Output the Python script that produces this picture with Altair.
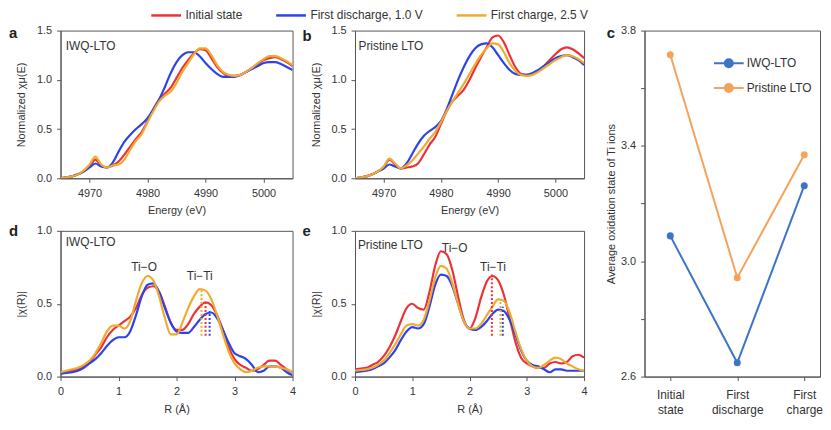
import altair as alt
import pandas as pd

FONT = "Liberation Sans"
TXT = "#333333"
AXC = "#555555"

series = ["Initial state", "First discharge, 1.0 V", "First charge, 2.5 V"]
series_colors = ["#ec3237", "#2b43e8", "#efab30"]

# XANES, energy grid 4965..5005 eV
energy = list(range(4965, 5006))
a_initial = [0.00, 0.01, 0.02, 0.04, 0.07, 0.12, 0.19, 0.13, 0.11, 0.13, 0.17, 0.24, 0.32, 0.40,
             0.47, 0.58, 0.70, 0.80, 0.86, 0.92, 1.02, 1.12, 1.20, 1.27, 1.31, 1.30, 1.22, 1.13,
             1.07, 1.04, 1.04, 1.05, 1.08, 1.12, 1.16, 1.20, 1.22, 1.23, 1.21, 1.18, 1.14]
a_discharge = [0.00, 0.01, 0.02, 0.04, 0.07, 0.11, 0.15, 0.12, 0.11, 0.16, 0.27, 0.37, 0.44, 0.50,
               0.55, 0.61, 0.70, 0.80, 0.93, 1.07, 1.18, 1.25, 1.28, 1.28, 1.24, 1.17, 1.11, 1.06,
               1.03, 1.03, 1.03, 1.05, 1.08, 1.11, 1.14, 1.17, 1.18, 1.18, 1.16, 1.13, 1.10]
a_charge = [0.00, 0.01, 0.02, 0.04, 0.08, 0.14, 0.22, 0.14, 0.11, 0.13, 0.14, 0.19, 0.29, 0.38,
            0.45, 0.57, 0.68, 0.78, 0.84, 0.88, 0.97, 1.08, 1.17, 1.26, 1.32, 1.32, 1.25, 1.15,
            1.08, 1.05, 1.04, 1.05, 1.08, 1.12, 1.17, 1.21, 1.24, 1.24, 1.22, 1.19, 1.15]
b_initial = [0.00, 0.01, 0.02, 0.04, 0.07, 0.11, 0.19, 0.14, 0.10, 0.11, 0.12, 0.15, 0.24, 0.34,
             0.42, 0.55, 0.68, 0.78, 0.84, 0.90, 1.00, 1.12, 1.23, 1.33, 1.43, 1.45, 1.38, 1.25,
             1.13, 1.06, 1.05, 1.06, 1.09, 1.14, 1.20, 1.26, 1.31, 1.33, 1.31, 1.27, 1.22]
b_discharge = [0.00, 0.01, 0.02, 0.04, 0.07, 0.10, 0.14, 0.12, 0.10, 0.15, 0.25, 0.35, 0.43, 0.48,
               0.52, 0.58, 0.70, 0.85, 1.00, 1.13, 1.24, 1.32, 1.36, 1.37, 1.33, 1.25, 1.17, 1.10,
               1.06, 1.05, 1.05, 1.07, 1.10, 1.14, 1.18, 1.22, 1.24, 1.25, 1.23, 1.20, 1.15]
b_charge = [0.00, 0.01, 0.02, 0.04, 0.07, 0.12, 0.20, 0.15, 0.10, 0.13, 0.18, 0.25, 0.32, 0.40,
            0.47, 0.57, 0.68, 0.78, 0.87, 0.96, 1.06, 1.16, 1.25, 1.32, 1.37, 1.36, 1.28, 1.17,
            1.09, 1.05, 1.04, 1.05, 1.08, 1.12, 1.16, 1.20, 1.23, 1.25, 1.24, 1.21, 1.17]

# EXAFS, R grid 0..4 Å
radius = [i / 10 for i in range(41)]
d_initial = [0.03, 0.035, 0.04, 0.05, 0.07, 0.10, 0.15, 0.20, 0.27, 0.32, 0.35, 0.38, 0.41, 0.47,
             0.56, 0.61, 0.62, 0.58, 0.48, 0.37, 0.32, 0.32, 0.36, 0.43, 0.48, 0.51, 0.49, 0.42,
             0.32, 0.20, 0.12, 0.08, 0.06, 0.04, 0.05, 0.08, 0.11, 0.11, 0.08, 0.05, 0.03]
d_discharge = [0.02, 0.025, 0.03, 0.04, 0.06, 0.09, 0.12, 0.16, 0.21, 0.25, 0.27, 0.27, 0.31, 0.42,
               0.55, 0.63, 0.64, 0.58, 0.47, 0.37, 0.31, 0.30, 0.30, 0.34, 0.39, 0.43, 0.44, 0.40,
               0.32, 0.23, 0.16, 0.14, 0.12, 0.08, 0.03, 0.04, 0.07, 0.07, 0.06, 0.03, 0.01]
d_charge = [0.03, 0.04, 0.05, 0.06, 0.08, 0.11, 0.16, 0.23, 0.31, 0.35, 0.35, 0.33, 0.38, 0.52,
            0.64, 0.69, 0.66, 0.55, 0.40, 0.29, 0.29, 0.37, 0.47, 0.55, 0.60, 0.59, 0.53, 0.42,
            0.29, 0.17, 0.09, 0.05, 0.03, 0.04, 0.06, 0.07, 0.07, 0.07, 0.06, 0.05, 0.03]
e_initial = [0.05, 0.055, 0.06, 0.08, 0.10, 0.14, 0.20, 0.28, 0.38, 0.47, 0.50, 0.47, 0.46, 0.58,
             0.76, 0.86, 0.84, 0.73, 0.55, 0.39, 0.33, 0.40, 0.54, 0.65, 0.69, 0.66, 0.56, 0.40,
             0.24, 0.13, 0.09, 0.07, 0.06, 0.06, 0.09, 0.10, 0.09, 0.10, 0.14, 0.15, 0.13]
e_discharge = [0.03, 0.035, 0.04, 0.05, 0.07, 0.09, 0.13, 0.18, 0.25, 0.31, 0.34, 0.33, 0.36, 0.48,
               0.63, 0.70, 0.69, 0.62, 0.50, 0.38, 0.33, 0.32, 0.34, 0.38, 0.43, 0.46, 0.45, 0.39,
               0.29, 0.18, 0.11, 0.08, 0.07, 0.05, 0.03, 0.05, 0.05, 0.04, 0.04, 0.04, 0.04]
e_charge = [0.04, 0.045, 0.05, 0.06, 0.08, 0.11, 0.16, 0.22, 0.29, 0.35, 0.36, 0.35, 0.39, 0.52,
            0.68, 0.76, 0.74, 0.64, 0.50, 0.38, 0.33, 0.33, 0.36, 0.42, 0.48, 0.53, 0.52, 0.44,
            0.31, 0.19, 0.11, 0.07, 0.06, 0.08, 0.11, 0.13, 0.12, 0.09, 0.07, 0.05, 0.04]

# Ti-Ti peak markers: position and top (series order), common bottom
d_peak_x = [2.50, 2.57, 2.43]
d_peak_top = [0.52, 0.45, 0.60]
e_peak_x = [2.39, 2.58, 2.54]
e_peak_top = [0.70, 0.48, 0.52]
peak_bottom = 0.28

# average Ti oxidation state
states = ["Initial state", "First discharge", "First charge"]
samples = ["IWQ-LTO", "Pristine LTO"]
sample_colors = ["#3d74c6", "#f5a25c"]
iwq_ox = [3.088, 2.648, 3.262]
pristine_ox = [3.716, 2.943, 3.369]

# axis ticks (minor ticks carry empty labels)
xanes_x_ticks = [4970, 4980, 4990, 5000]
xanes_y_ticks = [0, 0.25, 0.5, 0.75, 1.0, 1.25, 1.5]
exafs_x_ticks = [0, 0.5, 1, 1.5, 2, 2.5, 3, 3.5, 4]
exafs_y_ticks = [0, 0.25, 0.5, 0.75, 1.0]
ox_ticks = [2.6, 2.8, 3.0, 3.2, 3.4, 3.6, 3.8]


def long_df(x, cols):
    rows = []
    for name, vals in zip(series, cols):
        for xi, yi in zip(x, vals):
            rows.append({"x": xi, "y": yi, "s": name})
    return pd.DataFrame(rows)


def panel_title(letter, dx, dy):
    return alt.TitleParams(letter, anchor="start", frame="group", dx=dx, dy=dy, offset=0,
                           fontSize=15, fontWeight="bold", font=FONT, color="#222222")


def spectrum(df, xdom, xvals, xlabel_expr, xtitle, ydom, yvals, ylabel_expr, ytitle,
             width, height, notes, legend, letter, peaks=None):
    color = alt.Color("s:N", scale=alt.Scale(domain=series, range=series_colors), legend=legend)
    xaxis = dict(values=xvals, title=xtitle, tickSize=4, labelPadding=5, titlePadding=7,
                 labelOverlap=False, labelFlush=False)
    if xlabel_expr:
        xaxis["labelExpr"] = xlabel_expr
    else:
        xaxis["format"] = "d"
    xenc = alt.X("x:Q", scale=alt.Scale(domain=xdom, nice=False, zero=False),
                 axis=alt.Axis(**xaxis))
    yenc = alt.Y("y:Q", scale=alt.Scale(domain=ydom, nice=False, zero=False),
                 axis=alt.Axis(values=yvals, labelExpr=ylabel_expr, title=ytitle, tickSize=4,
                               labelPadding=5, titlePadding=10, labelOverlap=False))
    lines = alt.Chart(df).mark_line(strokeWidth=2.2, interpolate="monotone", clip=True).encode(
        x=xenc, y=yenc, color=color)
    layers = [lines]
    if peaks is not None:
        rule = alt.Chart(peaks).mark_rule(strokeWidth=2, strokeDash=[2, 2]).encode(
            x="x:Q", y="y:Q", y2="y2:Q",
            color=alt.Color("s:N", scale=alt.Scale(domain=series, range=series_colors), legend=None))
        layers.append(rule)
    for tx, ty, txt, align in notes:
        layers.append(
            alt.Chart(pd.DataFrame({"x": [tx], "y": [ty], "t": [txt]}))
            .mark_text(align=align, baseline="middle", font=FONT, fontSize=12, color=TXT)
            .encode(x="x:Q", y="y:Q", text="t:N")
        )
    return alt.layer(*layers).properties(width=width, height=height, title=letter)


half_expr = "(datum.value * 2) % 1 == 0 ? format(datum.value, '.1f') : ''"
exafs_x_expr = "datum.value % 1 == 0 ? format(datum.value, 'd') : ''"

top_legend = alt.Legend(
    title=None, orient="none", legendX=90, legendY=-32, direction="horizontal", columns=3,
    symbolType="stroke", symbolSize=900, symbolStrokeWidth=2.5, labelFont=FONT,
    labelFontSize=12, labelColor=TXT, labelOffset=3, columnPadding=28)


def peak_df(xs, tops):
    return pd.DataFrame({"x": xs, "y": [peak_bottom] * 3, "y2": tops, "s": series})


W1, W2, WC, H1, H2, HC = 234, 231, 177, 149, 147, 349

pa = spectrum(long_df(energy, [a_initial, a_discharge, a_charge]), [4965, 5005], xanes_x_ticks,
              None, "Energy (eV)", [0, 1.5], xanes_y_ticks, half_expr,
              "Normalized χμ(E)", W1, H1, [(4965.9, 1.34, "IWQ-LTO", "left")], top_legend,
              panel_title("a", -52, 43))
pb = spectrum(long_df(energy, [b_initial, b_discharge, b_charge]), [4965, 5005], xanes_x_ticks,
              None, "Energy (eV)", [0, 1.5], xanes_y_ticks, half_expr,
              "Normalized χμ(E)", W2, H1, [(4965.6, 1.34, "Pristine LTO", "left")], None,
              panel_title("b", -53, 20))
pd_ = spectrum(long_df(radius, [d_initial, d_discharge, d_charge]), [0, 4], exafs_x_ticks,
               exafs_x_expr, "R (Å)", [0, 1], exafs_y_ticks, half_expr, "|χ(R)|", W1, H2,
               [(0.09, 0.92, "IWQ-LTO", "left"), (1.44, 0.755, "Ti−O", "center"),
                (2.40, 0.69, "Ti−Ti", "center")], None,
               panel_title("d", -52, 14), peaks=peak_df(d_peak_x, d_peak_top))
pe = spectrum(long_df(radius, [e_initial, e_discharge, e_charge]), [0, 4], exafs_x_ticks,
              exafs_x_expr, "R (Å)", [0, 1], exafs_y_ticks, half_expr, "|χ(R)|", W2, H2,
              [(0.05, 0.90, "Pristine LTO", "left"), (1.74, 0.88, "Ti−O", "center"),
               (2.41, 0.755, "Ti−Ti", "center")], None,
              panel_title("e", -53, 14), peaks=peak_df(e_peak_x, e_peak_top))

c_df = pd.DataFrame({
    "state": states * 2,
    "v": iwq_ox + pristine_ox,
    "sample": [samples[0]] * 3 + [samples[1]] * 3,
})
c_legend = alt.Legend(
    title=None, orient="none", legendX=69, legendY=17,
    symbolType="M-1,0L1,0M0.27,0A0.27,0.27,0,1,1,-0.27,0A0.27,0.27,0,1,1,0.27,0",
    symbolSize=900, symbolStrokeWidth=2, labelFont=FONT, labelFontSize=12, labelColor=TXT,
    labelOffset=2, rowPadding=0)
c_base = alt.Chart(c_df).encode(
    x=alt.X("state:N", sort=states, scale=alt.Scale(type="point", padding=0.31, align=0.62),
            axis=alt.Axis(title=None, labelAngle=0, labelExpr="split(datum.label, ' ')",
                          labelLineHeight=15, tickSize=4, labelPadding=9, labelFontSize=12)),
    y=alt.Y("v:Q", scale=alt.Scale(domain=[2.6, 3.8], nice=False, zero=False),
            axis=alt.Axis(values=ox_ticks, tickSize=4, labelPadding=5, labelOverlap=False,
                          labelExpr="round((datum.value - 2.6) * 10) % 4 == 0 ? format(datum.value, '.1f') : ''",
                          title="Average oxidation state of Ti ions", titlePadding=4)),
    color=alt.Color("sample:N", scale=alt.Scale(domain=samples, range=sample_colors),
                    legend=c_legend),
)
pc = alt.layer(
    c_base.mark_line(strokeWidth=2),
    c_base.mark_point(filled=True, size=50, opacity=1),
).properties(width=WC, height=HC, title=panel_title("c", -38, 16))

# a/b over d/e on a flush grid, c spanning the full height on the right
spectra = (
    alt.concat(pa, pb, pd_, pe, columns=2, bounds="flush", spacing={"row": 53, "column": 63})
    .resolve_scale(color="independent")
    .resolve_legend(color="independent")
)

chart = (
    alt.hconcat(spectra, pc, spacing=15)
    .resolve_scale(color="independent")
    .resolve_legend(color="independent")
    .properties(padding={"top": -12, "left": 0, "right": 0, "bottom": 0})
    .configure_view(stroke=AXC, strokeWidth=1)
    .configure_axis(labelFont=FONT, titleFont=FONT, labelFontSize=11, titleFontSize=11,
                    labelColor=TXT, titleColor=TXT, domainColor=AXC, tickColor=AXC,
                    grid=False, titleFontWeight="normal")
)

chart.save("out.html", embed_options={"renderer": "svg", "actions": False})
